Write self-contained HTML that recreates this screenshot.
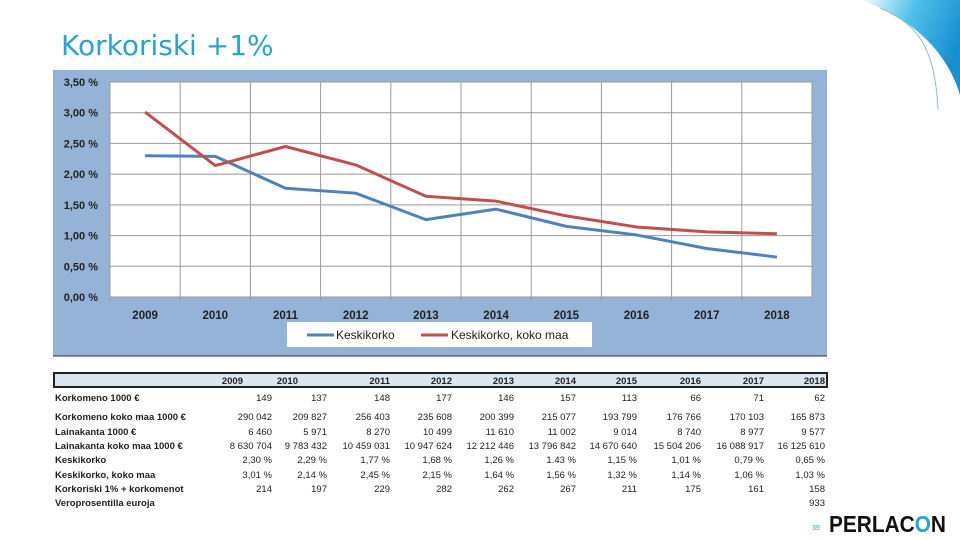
<!DOCTYPE html>
<html><head><meta charset="utf-8">
<style>
body{margin:0;width:960px;height:540px;overflow:hidden;background:#fff;position:relative;font-family:"Liberation Sans",sans-serif}
#title{position:absolute;left:61px;top:29px;font-size:28px;color:#29a3cc;font-family:"DejaVu Sans","Liberation Sans",sans-serif;font-weight:normal}
svg{position:absolute;left:0;top:0}
</style></head><body>
<div id="title">Korkoriski +1%</div>
<svg id="s" width="960" height="540">
<defs><linearGradient id="g" x1="0" y1="0" x2="1" y2="0.4"><stop offset="0" stop-color="#fff"/><stop offset="0.5" stop-color="#4ec0ea"/><stop offset="1" stop-color="#1a8fd0"/></linearGradient></defs>
<path d="M860 0 L960 0 L960 95 C950 60 920 20 860 0Z" fill="url(#g)"/>
<path d="M880 8 C920 25 935 50 938 110" stroke="#9bb" stroke-width="1" fill="none"/>
</svg>
<script>
const years=["2009","2010","2011","2012","2013","2014","2015","2016","2017","2018"];
const keskikorko=[2.30,2.29,1.77,1.69,1.26,1.43,1.15,1.01,0.79,0.65];
const kokoMaa=[3.01,2.14,2.45,2.15,1.64,1.56,1.32,1.14,1.06,1.03];
const yTicks=[0,0.5,1,1.5,2,2.5,3,3.5];
const rowLabels=["Korkomeno 1000 €","Korkomeno koko maa 1000 €","Lainakanta 1000 €","Lainakanta koko maa 1000 €","Keskikorko","Keskikorko, koko maa","Korkoriski 1% + korkomenot","Veroprosentilla euroja"];
const rowKorkomeno=["149","137","148","177","146","157","113","66","71","62"];
const rowKorkomenoMaa=["290 042","209 827","256 403","235 608","200 399","215 077","193 799","176 766","170 103","165 873"];
const rowLaina=["6 460","5 971","8 270","10 499","11 610","11 002","9 014","8 740","8 977","9 577"];
const rowLainaMaa=["8 630 704","9 783 432","10 459 031","10 947 624","12 212 446","13 796 842","14 670 640","15 504 206","16 088 917","16 125 610"];
const rowKesk=["2,30 %","2,29 %","1,77 %","1,68 %","1,26 %","1.43 %","1,15 %","1,01 %","0,79 %","0,65 %"];
const rowKeskMaa=["3,01 %","2,14 %","2,45 %","2,15 %","1,64 %","1,56 %","1,32 %","1,14 %","1,06 %","1,03 %"];
const rowRiski=["214","197","229","282","262","267","211","175","161","158"];
const rowVero=["","","","","","","","","","933"];

const NS="http://www.w3.org/2000/svg";const s=document.getElementById('s');
function el(t,a,p){const e=document.createElementNS(NS,t);for(const k in a)e.setAttribute(k,a[k]);(p||s).appendChild(e);return e;}
const X0=110,X1=812,Y0=297,Y1=82,ymax=3.5;
const bw=(X1-X0)/years.length;
const xs=i=>X0+bw*(i+0.5);
const ys=v=>Y0-(v/ymax)*(Y0-Y1);
let e=el('rect',{x:53,y:70,width:774,height:286,fill:'#95b3d7'});

el('line',{x1:53,x2:827,y1:356,y2:356,stroke:'#333','stroke-width':1});
e=el('rect',{x:X0,y:Y1,width:X1-X0,height:Y0-Y1,fill:'#fff'});

yTicks.forEach(v=>{
 const l=el('line',{x1:X0,x2:X1,y1:ys(v),y2:ys(v),stroke:'#999','stroke-width':1});
 
 const t=el('text',{x:98,y:ys(v)+4,'text-anchor':'end','font-size':11,'font-weight':'bold',fill:'#222'});
 t.textContent=v.toFixed(2).replace('.',',')+' %';
 
});
years.forEach((y,i)=>{
 const l=el('line',{x1:X0+bw*i,x2:X0+bw*i,y1:Y1,y2:Y0+4,stroke:'#999','stroke-width':1});
 
 const t=el('text',{x:xs(i),y:319,'text-anchor':'middle','font-size':11.5,'font-weight':'bold',fill:'#222'});
 t.textContent=y;
 
});
el('line',{x1:X1,x2:X1,y1:Y1,y2:Y0,stroke:'#999'});
function series(vals,col,name){
 const p=el('polyline',{points:vals.map((v,i)=>xs(i)+','+ys(v)).join(' '),fill:'none',stroke:col,'stroke-width':3,'stroke-linejoin':'round'});
 
}
series(keskikorko,'#4f81bd','series-keskikorko');
series(kokoMaa,'#c0504d','series-keskikorko-koko-maa');
e=el('rect',{x:287,y:322,width:305,height:25,fill:'#fff'});

el('line',{x1:307,x2:334,y1:335,y2:335,stroke:'#4f81bd','stroke-width':3});
e=el('text',{x:336,y:339,'font-size':12,fill:'#222'});e.textContent='Keskikorko';

el('line',{x1:421,x2:448,y1:335,y2:335,stroke:'#c0504d','stroke-width':3});
e=el('text',{x:451,y:339,'font-size':12,fill:'#222'});e.textContent='Keskikorko, koko maa';

// table
e=el('rect',{x:54,y:373,width:773,height:14,fill:'#dce6f1',stroke:'#222','stroke-width':2});

const colR=[272,327,390,452,514,576,637,701,764,825];
years.forEach((y,i)=>{
 const t=el('text',{x:i==0?243:(i==1?298:colR[i]),y:384,'text-anchor':'end','font-size':9.5,'font-weight':'bold',fill:'#222'});
 t.textContent=y;
});
const rows=[rowKorkomeno,rowKorkomenoMaa,rowLaina,rowLainaMaa,rowKesk,rowKeskMaa,rowRiski,rowVero];
const rowY=[401,420,435,449,463,478,492,506];
rows.forEach((r,j)=>{
 const t=el('text',{x:55,y:rowY[j],'font-size':9.5,'font-weight':'bold',fill:'#222'});
 t.textContent=rowLabels[j];
 r.forEach((v,i)=>{
  const c=el('text',{x:colR[i],y:rowY[j],'text-anchor':'end','font-size':9.5,fill:'#222'});
  c.textContent=v;
 });
});
e=el('text',{x:812,y:530,'font-size':7,fill:'#29a3cc'});e.textContent='39';

e=el('text',{x:829,y:532,'font-size':23,'font-weight':'bold',fill:'#111',textLength:117,lengthAdjust:'spacingAndGlyphs'});
e.innerHTML='PERLAC<tspan fill="#29a3cc">O</tspan>N';

</script>
</body></html>
